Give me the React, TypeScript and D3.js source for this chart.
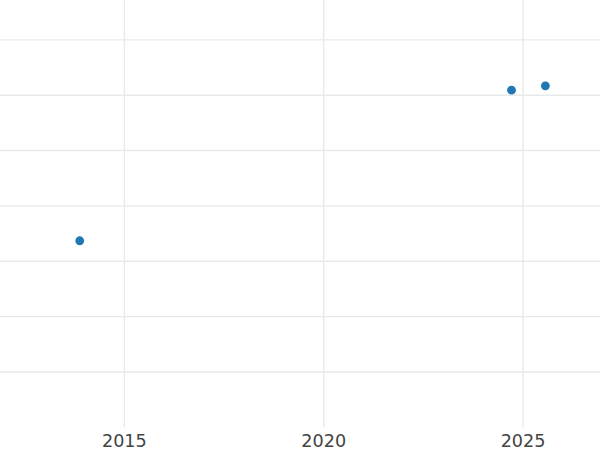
import React from "react";
import * as d3 from "d3";

const years: number[] = [2013.88, 2024.71, 2025.56];
const values: number[] = [3.37, 6.09, 6.17];
const xTicks: number[] = [2015, 2020, 2025];
const yTicks: number[] = [1, 2, 3, 4, 5, 6, 7];

const W = 600;
const H = 450;
const plotBottom = 427.3;

export default function App() {
  const x = d3.scaleLinear().domain([2011.88, 2026.93]).range([0, W]);
  const y = d3.scaleLinear().domain([0, 7.72]).range([plotBottom, 0]);
  const grid = "#e9e9e9";
  return (
    <svg
      width={W}
      height={H}
      style={{ position: "absolute", left: 0, top: 0, background: "#fff" }}
      fontFamily="DejaVu Sans, sans-serif"
    >
      <rect x={0} y={0} width={W} height={H} fill="#fff" />
      {yTicks.map((t) => (
        <line key={"y" + t} x1={0} x2={W} y1={y(t)} y2={y(t)} stroke={grid} strokeWidth={1.4} />
      ))}
      {xTicks.map((t) => (
        <line key={"x" + t} x1={x(t)} x2={x(t)} y1={0} y2={plotBottom} stroke={grid} strokeWidth={1.4} />
      ))}
      {years.map((yr, i) => (
        <circle key={i} cx={x(yr)} cy={y(values[i])} r={4.4} fill="#1f77b4" />
      ))}
      {xTicks.map((t) => (
        <text key={"l" + t} x={x(t)} y={447} textAnchor="middle" fontSize={17.6} fill="#444">
          {t}
        </text>
      ))}
    </svg>
  );
}
